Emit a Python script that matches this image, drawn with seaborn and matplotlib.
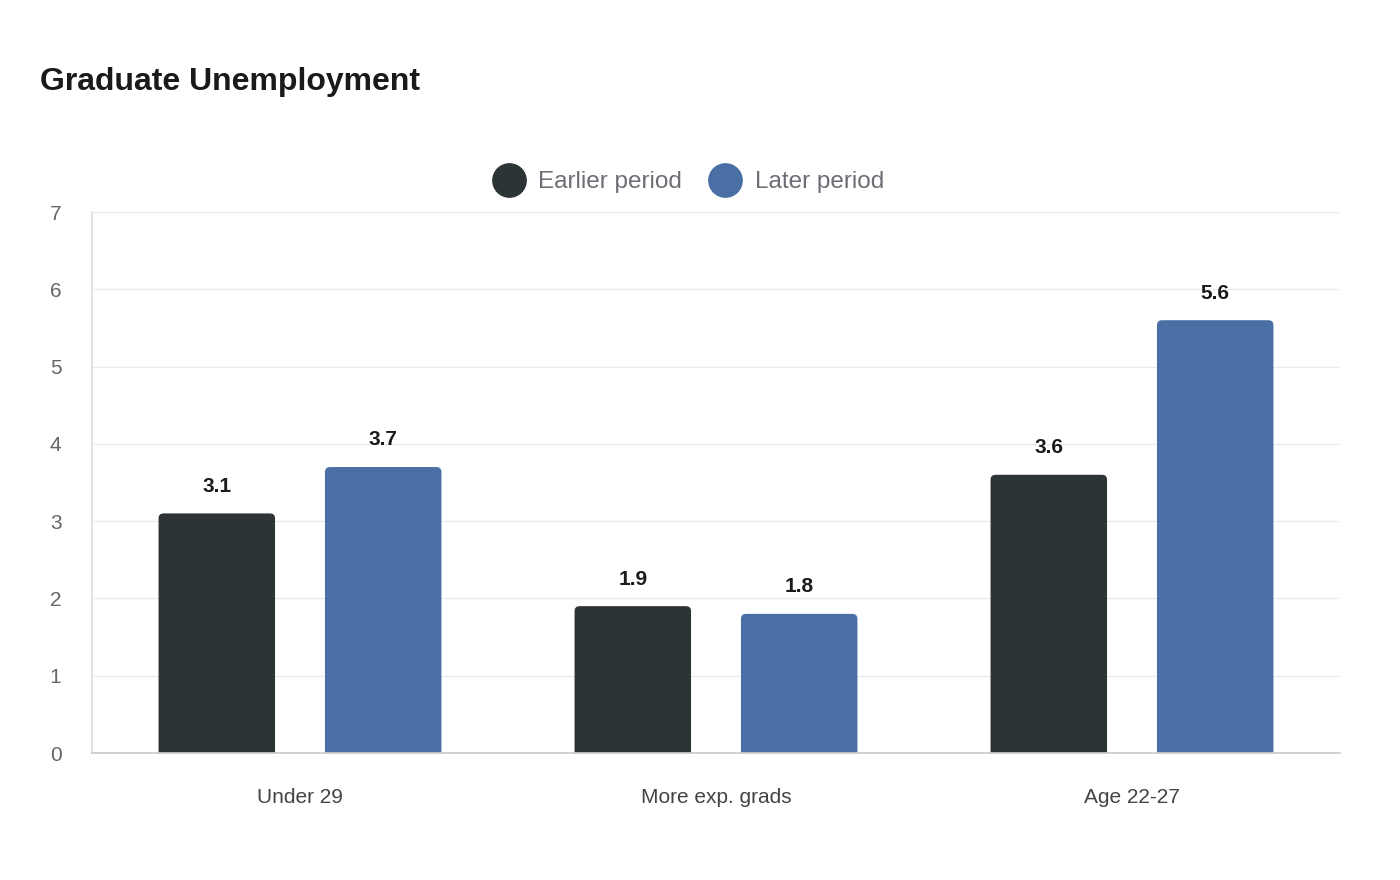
import pandas as pd
import numpy as np
import seaborn as sns
import matplotlib.pyplot as plt
from matplotlib.patches import FancyBboxPatch
from matplotlib.lines import Line2D

# Data
categories = ["Under 29", "More exp. grads", "Age 22-27"]
periods = ["Earlier period", "Later period"]
earlier = [3.1, 1.9, 3.6]
later = [3.7, 1.8, 5.6]
colors = ["#2d3436", "#4a6fa5"]

df = pd.DataFrame({
    "Group": categories * 2,
    "Period": [periods[0]] * 3 + [periods[1]] * 3,
    "Value": earlier + later,
})

sns.set_theme(style="white")
plt.rcParams["font.family"] = ["Liberation Sans", "DejaVu Sans"]

fig = plt.figure(figsize=(14, 8.8), dpi=100)
ax = fig.add_axes([92 / 1400, 127 / 880, 1248 / 1400, 541 / 880])

sns.barplot(data=df, x="Group", y="Value", hue="Period", palette=colors,
            gap=0.3, width=0.8, ax=ax, legend=False, saturation=1)

ax.set_xlim(-0.5, 2.5)
ax.set_ylim(0, 7)

# swap bars for rounded-top ones
px_x = 1248 / 3.0
px_y = 541 / 7.0
r = 5
for bar in list(ax.patches):
    x0, w, h = bar.get_x(), bar.get_width(), bar.get_height()
    fc = bar.get_facecolor()
    bar.remove()
    ext = 0.2
    p = FancyBboxPatch((x0, -ext), w, h + ext,
                       boxstyle=f"round,pad=0,rounding_size={r / px_x}",
                       mutation_aspect=px_x / px_y, fc=fc, ec="none",
                       clip_on=True, zorder=2)
    ax.add_patch(p)
    ax.annotate(f"{h:.1f}", (x0 + w / 2, h), xytext=(0, 19.5), textcoords="offset points",
                ha="center", va="center", fontsize=15, fontweight="bold", color="#1a1a1a")

ax.set_yticks(range(0, 8))
ax.yaxis.grid(True, color="#ebebeb", linewidth=1)
ax.set_axisbelow(True)
ax.tick_params(axis="y", length=12, color="#ebebeb", labelsize=15, labelcolor="#666666", pad=10)
ax.tick_params(axis="x", length=0, labelsize=15, labelcolor="#444444", pad=25.5)
for s in ["top", "right"]:
    ax.spines[s].set_visible(False)
ax.spines["left"].set_color("#dddddd")
ax.spines["bottom"].set_color("#cccccc")
ax.set_xlabel("")
ax.set_ylabel("")

handles = [Line2D([], [], marker="o", linestyle="none", markersize=24,
                  markerfacecolor=c, markeredgecolor=c) for c in colors]
leg = ax.legend(handles, periods, loc="center", bbox_to_anchor=(0.4774, 1.055), ncol=2,
                frameon=False, fontsize=17.5, handletextpad=0.5, handlelength=1.4,
                columnspacing=1.1)
for t in leg.get_texts():
    t.set_color("#6b6e74")

fig.text(40 / 1400, 1 - 82 / 880, "Graduate Unemployment", fontsize=23, fontweight="bold",
         color="#1a1a1a", ha="left", va="center")

fig.savefig("out.png", dpi=100)
